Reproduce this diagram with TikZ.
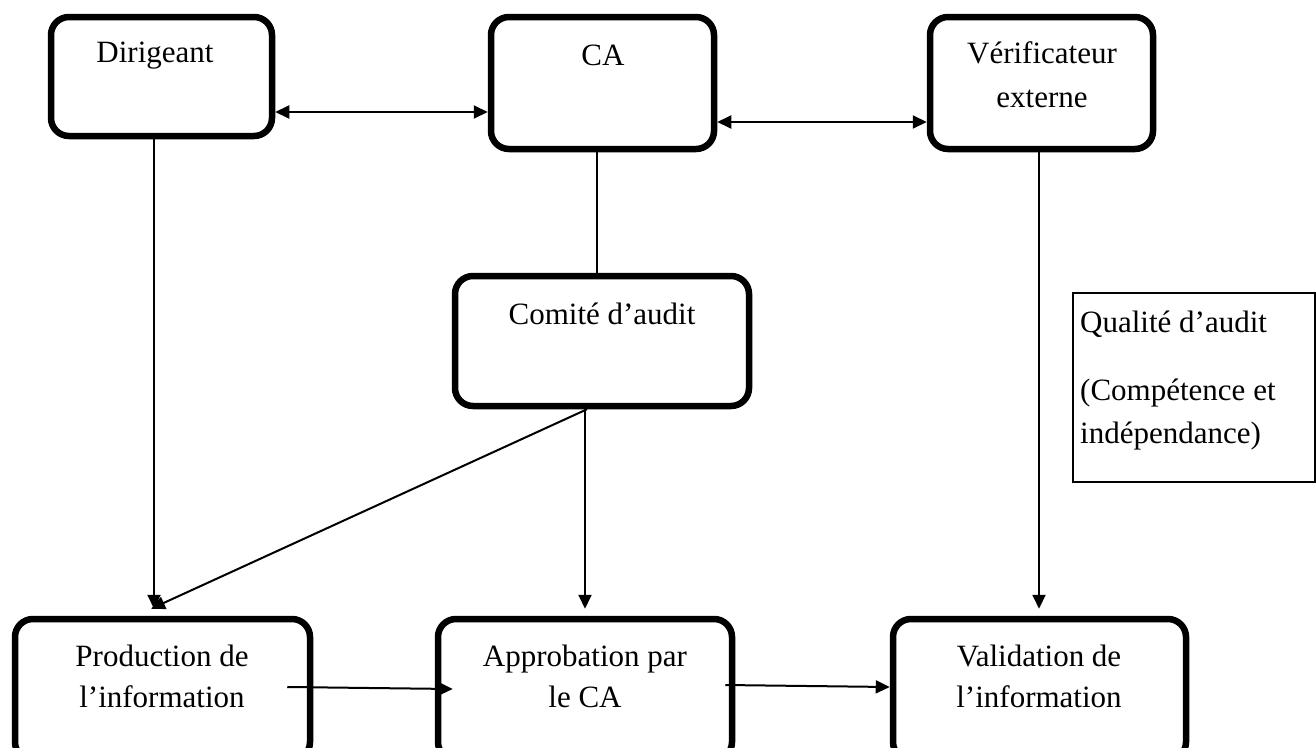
\documentclass[tikz,border=0pt]{standalone}
\usepackage{fontspec}
\setmainfont{Liberation Serif}
\usetikzlibrary{arrows.meta,calc}
\begin{document}
\begin{tikzpicture}[x=1pt,y=-1pt,
  box/.style={draw, line width=6.5pt, rounded corners=18pt, inner sep=0pt, outer sep=3.25pt},
  txt/.style={font=\fontsize{31}{40}\selectfont, inner sep=0pt, anchor=base},
  txtl/.style={font=\fontsize{31}{40}\selectfont, inner sep=0pt, anchor=base west},
  conn/.style={line width=2pt},
  arr/.style={line width=2pt, -{Triangle[length=14pt,width=13pt]}},
  dbl/.style={line width=2pt, {Triangle[length=14pt,width=13pt]}-{Triangle[length=14pt,width=13pt]}}]
\useasboundingbox (0,0) rectangle (1316,747);
\clip (0,0) rectangle (1316,747);
% boxes
\node[box, minimum width=221pt, minimum height=119pt] (dir) at (161.5,76.5) {};
\node[box, minimum width=223pt, minimum height=132pt] (ca) at (602.5,83) {};
\node[box, minimum width=223pt, minimum height=132pt] (ver) at (1041.5,83) {};
\node[box, minimum width=294pt, minimum height=130pt] (com) at (602,341) {};
\node[box, minimum width=295pt, minimum height=141pt] (prod) at (162.5,689.5) {};
\node[box, minimum width=294pt, minimum height=141pt] (appr) at (585,689.5) {};
\node[box, minimum width=293pt, minimum height=141pt] (val) at (1039.5,689.5) {};
\node[draw, line width=2pt, minimum width=242pt, minimum height=189pt, inner sep=0pt, outer sep=0pt] (qual) at (1194,387.5) {};
% texts
\node[txt] (t-dir) at (155,62) {Dirigeant};
\node[txt] (t-ca) at (603,65) {CA};
\node[txt] (t-ver1) at (1042,63) {Vérificateur};
\node[txt] (t-ver2) at (1042,107) {externe};
\node[txt] (t-com) at (602,324) {Comité d’audit};
\node[txt] (t-prod1) at (162,666) {Production de};
\node[txt] (t-prod2) at (162,707) {l’information};
\node[txt] (t-appr1) at (585,666) {Approbation par};
\node[txt] (t-appr2) at (585,707) {le CA};
\node[txt] (t-val1) at (1039,666) {Validation de};
\node[txt] (t-val2) at (1039,707) {l’information};
\node[txtl] (t-q1) at (1080,332) {Qualité d’audit};
\node[txtl] (t-q2) at (1080,400) {(Compétence et};
\node[txtl] (t-q3) at (1080,443) {indépendance)};
% helper coordinates
\coordinate (r1) at (0,112);
\coordinate (r2) at (0,122);
\coordinate (c597) at (597,0);
\coordinate (c154) at (154,0);
\coordinate (c151) at (151,0);
\coordinate (c585) at (585,0);
\coordinate (c587) at (587,0);
\coordinate (c1039) at (1039,0);
% connectors
\draw[dbl] (dir.east |- r1) -- (ca.west |- r1);
\draw[dbl] (ca.east |- r2) -- (ver.west |- r2);
\draw[conn] (ca.south -| c597) -- (com.north -| c597);
\draw[arr] (dir.south -| c154) -- ($(prod.north -| c154)+(0,-7)$);
\draw[arr] (com.south -| c587) -- ($(prod.north -| c151)+(0,-7)$);
\draw[arr] (com.south -| c585) -- ($(appr.north -| c585)+(0,-7)$);
\draw[arr] (ver.south -| c1039) -- ($(val.north -| c1039)+(0,-7)$);
\draw[arr] ($(prod.east)+(-26,-2.5)$) -- ($(appr.west)+(18,-0.5)$);
\draw[arr] ($(appr.east)+(-10,-4.5)$) -- ($(val.west)+(0,-2.5)$);
\end{tikzpicture}
\end{document}
